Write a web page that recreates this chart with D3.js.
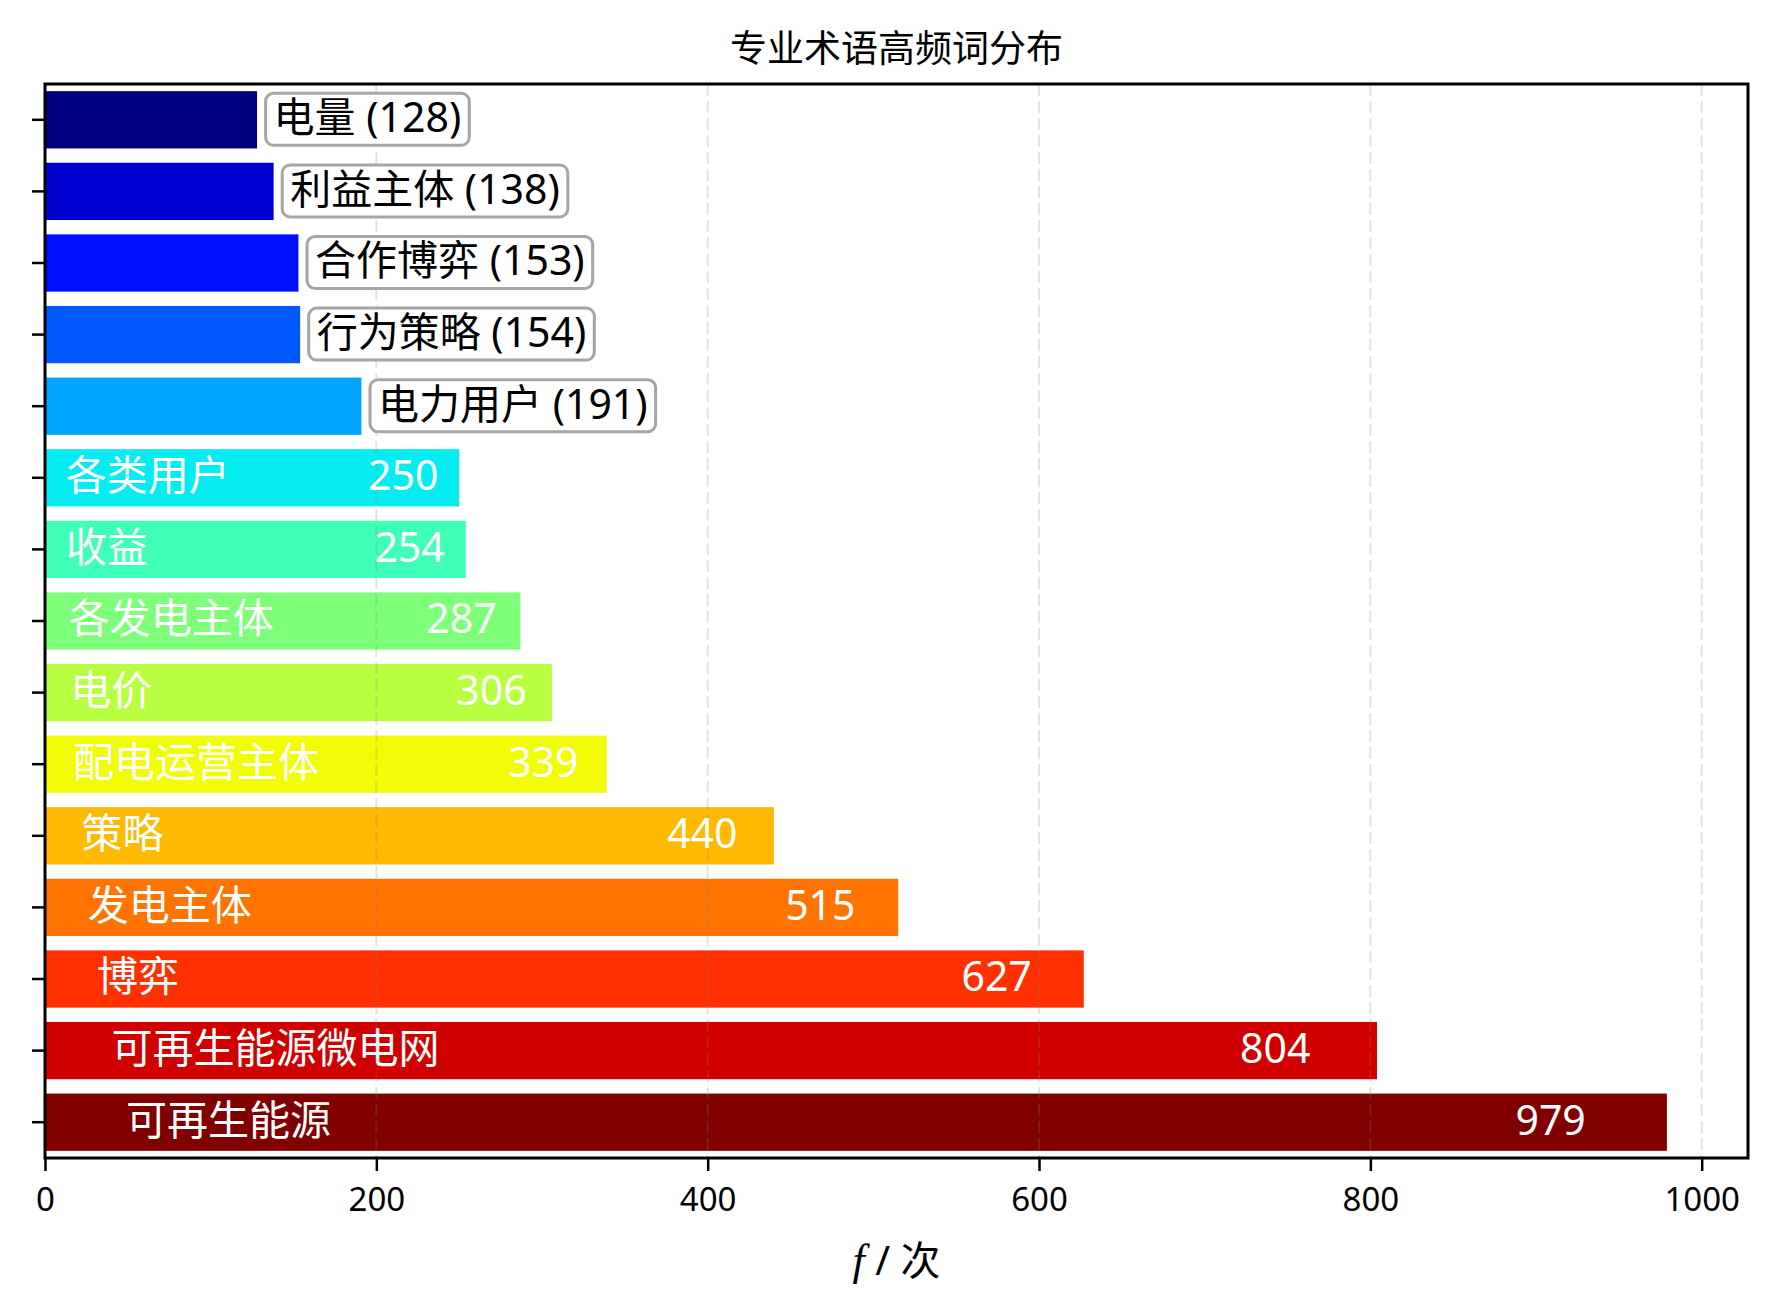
<!DOCTYPE html>
<html>
<head>
<meta charset="utf-8">
<script src="https://cdn.jsdelivr.net/npm/d3@7"></script>
<style>
  body { margin: 0; background: #fff; }
  text { font-family: "Noto Sans", "Noto Sans CJK SC", sans-serif; }
</style>
</head>
<body>
<div id="chart"></div>
<script>
// term frequencies, top to bottom as drawn
const terms = ['电量', '利益主体', '合作博弈', '行为策略', '电力用户', '各类用户', '收益',
               '各发电主体', '电价', '配电运营主体', '策略', '发电主体', '博弈', '可再生能源微电网', '可再生能源']
const counts = [128, 138, 153, 154, 191, 250, 254, 287, 306, 339, 440, 515, 627, 804, 979]
const xTicks = [0, 200, 400, 600, 800, 1000]
const chartTitle = '专业术语高频词分布'
const insideMin = 200   // smaller bars get their label outside in a box

const W = 1777, H = 1312
const margin = { top: 84, right: 29, bottom: 154, left: 45 }
const width = W - margin.left - margin.right
const height = H - margin.top - margin.bottom

// matplotlib 'jet', sampled through a 256 step table
const jetSeg = {
    r: [[0, 0], [0.35, 0], [0.66, 1], [0.89, 1], [1, 0.5]],
    g: [[0, 0], [0.125, 0], [0.375, 1], [0.64, 1], [0.91, 0], [1, 0]],
    b: [[0, 0.5], [0.11, 1], [0.34, 1], [0.65, 0], [1, 0]]
}
const seg = (pts, t) => {
    for (let i = 1; i < pts.length; i++) {
        if (t <= pts[i][0]) {
            const [x0, y0] = pts[i - 1], [x1, y1] = pts[i]
            return y0 + (y1 - y0) * (t - x0) / (x1 - x0)
        }
    }
    return pts[pts.length - 1][1]
}
const jet = t => {
    const k = Math.min(255, Math.floor(t * 256)) / 255
    return d3.rgb(seg(jetSeg.r, k) * 255, seg(jetSeg.g, k) * 255, seg(jetSeg.b, k) * 255).formatHex()
}

const svg = d3.select('#chart')
  .append('svg')
    .attr('width', W)
    .attr('height', H)
    .style('display', 'block')

svg.append('rect').attr('width', W).attr('height', H).attr('fill', '#fff')

const g = svg.append('g')
    .attr('transform', `translate(${margin.left},${margin.top})`)

const x = d3.scaleLinear()
    .domain([0, d3.max(counts) * 1.05])
    .range([0, width])

const y = d3.scaleBand()
    .domain(terms)
    .range([0, height])
    .paddingInner(0.2)
    .paddingOuter(0.1)

const rows = terms.map((t, i) => ({ term: t, count: counts[i], i }))

// bars
g.append('g')
  .selectAll('rect')
  .data(rows)
  .join('rect')
    .attr('x', x(0))
    .attr('y', d => y(d.term))
    .attr('width', d => x(d.count) - x(0))
    .attr('height', y.bandwidth())
    .attr('fill', d => jet(d.i / (terms.length - 1)))

// dashed grid, drawn over the bars
g.append('g')
  .selectAll('line')
  .data(xTicks)
  .join('line')
    .attr('x1', d => x(d)).attr('x2', d => x(d))
    .attr('y1', 0).attr('y2', height)
    .attr('stroke', '#808080')
    .attr('stroke-opacity', 0.22)
    .attr('stroke-width', 2)
    .attr('stroke-dasharray', '12,5')

const fs = 41
const mid = d => y(d.term) + y.bandwidth() / 2

// labels inside the bigger bars
const inside = rows.filter(d => d.count >= insideMin)
g.append('g')
  .selectAll('text')
  .data(inside)
  .join('text')
    .attr('x', d => x(d.count * 0.05))
    .attr('y', d => mid(d) + fs * 0.3)
    .attr('fill', '#fff')
    .attr('font-size', fs)
    .text(d => d.term)

g.append('g')
  .selectAll('text')
  .data(inside)
  .join('text')
    .attr('x', d => x(d.count * 0.95))
    .attr('y', d => mid(d) + fs * 0.3)
    .attr('text-anchor', 'end')
    .attr('fill', '#fff')
    .attr('font-size', fs)
    .text(d => d.count)

// boxed labels beside the small bars
const outside = g.append('g')
  .selectAll('g')
  .data(rows.filter(d => d.count < insideMin))
  .join('g')

outside.append('text')
    .attr('x', d => x(d.count + 10))
    .attr('y', d => mid(d) + fs * 0.3)
    .attr('fill', '#000')
    .attr('font-size', fs)
    .text(d => `${d.term} (${d.count})`)

outside.each(function(d) {
    const t = d3.select(this).select('text').node()
    const w = t.getComputedTextLength()
    d3.select(this).insert('rect', 'text')
        .attr('x', x(d.count + 10) - 8)
        .attr('y', mid(d) - 26.5)
        .attr('width', w + 16)
        .attr('height', 52)
        .attr('rx', 8)
        .attr('fill', '#fff')
        .attr('stroke', '#a6a6a6')
        .attr('stroke-width', 3)
})

// axes
const xAxis = g.append('g')
    .attr('transform', `translate(0,${height})`)
    .call(d3.axisBottom(x).tickValues(xTicks).tickFormat(d3.format('d')).tickSize(13).tickPadding(17))
xAxis.select('.domain').remove()
xAxis.selectAll('line').attr('stroke', '#000').attr('stroke-width', 2.5)
xAxis.selectAll('text').attr('font-size', 33).attr('fill', '#000')
    .style('font-family', '"Noto Sans", "Noto Sans CJK SC", sans-serif')

const yAxis = g.append('g')
    .call(d3.axisLeft(y).tickSize(13).tickFormat(''))
yAxis.select('.domain').remove()
yAxis.selectAll('line').attr('stroke', '#000').attr('stroke-width', 2.5)

// frame
g.append('rect')
    .attr('width', width)
    .attr('height', height)
    .attr('fill', 'none')
    .attr('stroke', '#000')
    .attr('stroke-width', 3)

// title
svg.append('text')
    .attr('x', margin.left + width / 2)
    .attr('y', 62)
    .attr('text-anchor', 'middle')
    .attr('font-size', 37)
    .attr('fill', '#000')
    .text(chartTitle)

// x label: f / 次
const xl = svg.append('text')
    .attr('x', margin.left + width / 2)
    .attr('y', 1275)
    .attr('text-anchor', 'middle')
    .attr('font-size', 40)
    .attr('fill', '#000')
xl.append('tspan')
    .style('font-family', '"Liberation Serif", serif')
    .attr('font-style', 'italic')
    .attr('font-size', 44)
    .text('f')
xl.append('tspan').text(' / 次')
</script>
</body>
</html>
